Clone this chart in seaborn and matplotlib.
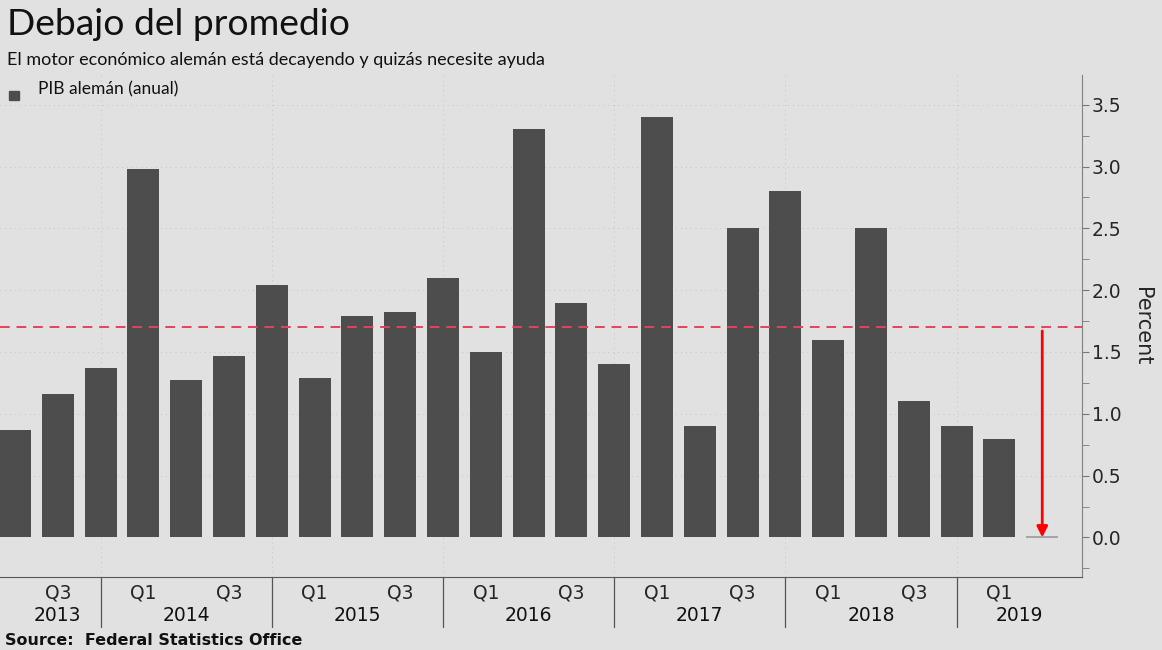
import numpy as np
import pandas as pd
import matplotlib
matplotlib.use("Agg")
import matplotlib.pyplot as plt
import matplotlib.transforms as mtransforms
import seaborn as sns

# ---- data ----
quarters = ["Q2 2013", "Q3 2013", "Q4 2013",
            "Q1 2014", "Q2 2014", "Q3 2014", "Q4 2014",
            "Q1 2015", "Q2 2015", "Q3 2015", "Q4 2015",
            "Q1 2016", "Q2 2016", "Q3 2016", "Q4 2016",
            "Q1 2017", "Q2 2017", "Q3 2017", "Q4 2017",
            "Q1 2018", "Q2 2018", "Q3 2018", "Q4 2018",
            "Q1 2019", "Q2 2019"]
gdp = [0.87, 1.16, 1.37,
       2.98, 1.27, 1.47, 2.04,
       1.29, 1.79, 1.82, 2.10,
       1.50, 3.30, 1.90, 1.40,
       3.40, 0.90, 2.50, 2.80,
       1.60, 2.50, 1.10, 0.90,
       0.80, 0.00]
average = 1.7
years = ["2013", "2014", "2015", "2016", "2017", "2018", "2019"]

BG = "#e1e1e1"
BAR = "#4d4d4d"

df = pd.DataFrame({"quarter": quarters, "gdp": gdp})
n = len(df)

sns.set_style("white")
plt.rcParams["font.family"] = ["DejaVu Sans"]

fig = plt.figure(figsize=(11.62, 6.5), dpi=100, facecolor=BG)
ax = fig.add_axes([0.0, 0.1123, 0.9312, 0.7723])
ax.set_facecolor(BG)

sns.barplot(data=df, x="quarter", y="gdp", color=BAR, saturation=1,
            width=0.75, edgecolor=BAR, linewidth=0, ax=ax, zorder=3)
# zero-height last bar shows up as a thin grey line
ax.patches[-1].set_edgecolor("#9a9a9a")
ax.patches[-1].set_linewidth(1.2)

ax.set_xlim(-0.35, n - 0.07)
ax.set_ylim(-0.32, 3.74)

# horizontal dotted grid
for v in np.arange(0.5, 3.6, 0.5):
    ax.axhline(v, color="#c4c4c4", lw=0.7, ls=(0, (1, 4)), zorder=1)

# average line and arrow
ax.axhline(average, color="#e8405e", lw=1.4, ls=(0, (5, 3.5)), zorder=4)
ax.annotate("", xy=(n - 1, 0.0), xytext=(n - 1, average - 0.03),
            arrowprops=dict(arrowstyle="-|>", color="red", lw=2,
                            mutation_scale=16, shrinkA=0, shrinkB=0),
            zorder=5)

# y axis on the right
ax.yaxis.tick_right()
ax.yaxis.set_label_position("right")
ax.set_yticks(np.arange(0, 3.6, 0.5))
ax.set_yticklabels([f"{v:.1f}" for v in np.arange(0, 3.6, 0.5)])
ax.set_yticks(np.arange(-0.25, 3.75, 0.5), minor=True)
ax.tick_params(axis="y", which="major", direction="out", length=5,
               color="#777777", labelsize=13.5, pad=2)
ax.tick_params(axis="y", which="minor", direction="out", length=5,
               color="#777777")
ax.set_ylabel("Percent", fontsize=15, rotation=270, labelpad=22)

# x axis: Q labels, small ticks at Q2s, year separators at Q4s
pos = np.arange(n)
qpos = [p for p in pos if p % 2 == 1]
qlab = [quarters[p].split()[0] for p in qpos]
ax.set_xticks(qpos)
ax.set_xticklabels(qlab)
ax.tick_params(axis="x", which="major", length=0, labelsize=13.5, pad=5)
ax.set_xticks([p for p in pos if p % 4 == 0], minor=True)
ax.tick_params(axis="x", which="minor", direction="out", length=5,
               color="#555555")
ax.set_xlabel("")

trans = mtransforms.blended_transform_factory(ax.transData, ax.transAxes)
seps = [p for p in pos if p % 4 == 2]
for s in seps:
    ax.axvline(s, color="#c4c4c4", lw=0.7, ls=(0, (1, 4)), zorder=1)
    ax.plot([s, s], [0, -0.10], transform=trans, color="#555555",
            lw=0.9, clip_on=False)

year_x = [1] + [(seps[i] + seps[i + 1]) / 2 for i in range(len(seps) - 1)] \
         + [(seps[-1] + n - 0.07) / 2]
for x, y in zip(year_x, years):
    ax.text(x, -0.077, y, transform=trans, ha="center", va="center",
            fontsize=13.5, color="#111111")

for side in ["top", "left"]:
    ax.spines[side].set_visible(False)
ax.spines["right"].set_color("#808080")
ax.spines["bottom"].set_color("#555555")

# titles, legend, source
fig.text(0.006, 0.962, "Debajo del promedio", fontsize=26.8, family="Lato",
         ha="left", va="center", color="#111111")
fig.text(0.006, 0.908, "El motor económico alemán está decayendo y quizás necesite ayuda",
         fontsize=13, family="Lato", ha="left", va="center", color="#111111")
fig.patches.append(plt.Rectangle((0.008, 0.846), 0.0085, 0.0145,
                                 transform=fig.transFigure, color=BAR))
fig.text(0.033, 0.862, "PIB alemán (anual)", fontsize=12.5, family="Lato",
         ha="left", va="center", color="#111111")
fig.text(0.004, 0.015, "Source:  Federal Statistics Office", fontsize=11.5,
         weight="bold", ha="left", va="center", color="#111111")

fig.savefig("out.png", dpi=100, facecolor=BG)
